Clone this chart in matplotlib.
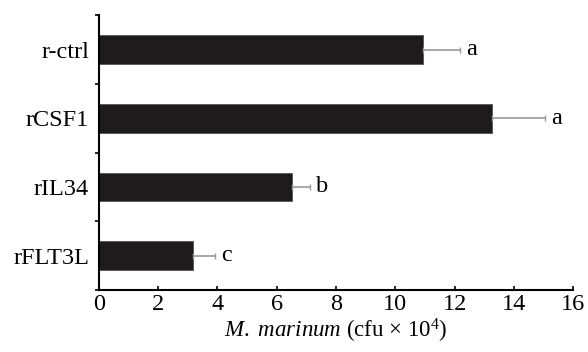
import numpy as np
import matplotlib.pyplot as plt

plt.rcParams['font.family'] = ['Liberation Serif', 'DejaVu Serif']
plt.rcParams['mathtext.fontset'] = 'custom'
plt.rcParams['mathtext.rm'] = 'Liberation Serif'
plt.rcParams['mathtext.it'] = 'Liberation Serif:italic'

groups = ['r-ctrl', 'rCSF1', 'rIL34', 'rFLT3L']
cfu = [10.92, 13.27, 6.50, 3.18]
err = [1.26, 1.78, 0.62, 0.73]
letters = ['a', 'a', 'b', 'c']

fig = plt.figure(figsize=(5.88, 3.52), dpi=100)
ax = fig.add_axes([0.168, 0.176, 0.807, 0.781])

y = np.arange(len(groups))
ax.barh(y, cfu, height=0.42, color='#1e1b1c', edgecolor='#555555', linewidth=0.6,
        xerr=[np.zeros(len(err)), err], ecolor='#999999',
        error_kw=dict(elinewidth=1.2, capsize=2, capthick=1.0))

for yi, v, e, l in zip(y, cfu, err, letters):
    ax.text(v + e + 0.2, yi, l, va='center', ha='left', fontsize=17.5)

ax.set_xlim(0, 16)
ax.set_ylim(3.5, -0.5)
ax.set_xticks(np.arange(0, 17, 2))
ax.set_yticks(y)
ax.set_yticklabels(groups)
ax.set_yticks(np.arange(-0.5, 3.6, 1), minor=True)
ax.tick_params(axis='y', which='major', length=0, labelsize=17.5, pad=7)
ax.tick_params(axis='y', which='minor', length=3, direction='out', width=1.2)
ax.tick_params(axis='x', length=3, direction='in', width=1.2, labelsize=17.5, pad=3)

for s in ['top', 'right']:
    ax.spines[s].set_visible(False)
for s in ['left', 'bottom']:
    ax.spines[s].set_linewidth(1.5)

ax.set_xlabel(r'$\mathit{M.\ marinum}$ (cfu $\times$ 10$^4$)', fontsize=16.5, labelpad=1)

fig.savefig('out.png', dpi=100)
